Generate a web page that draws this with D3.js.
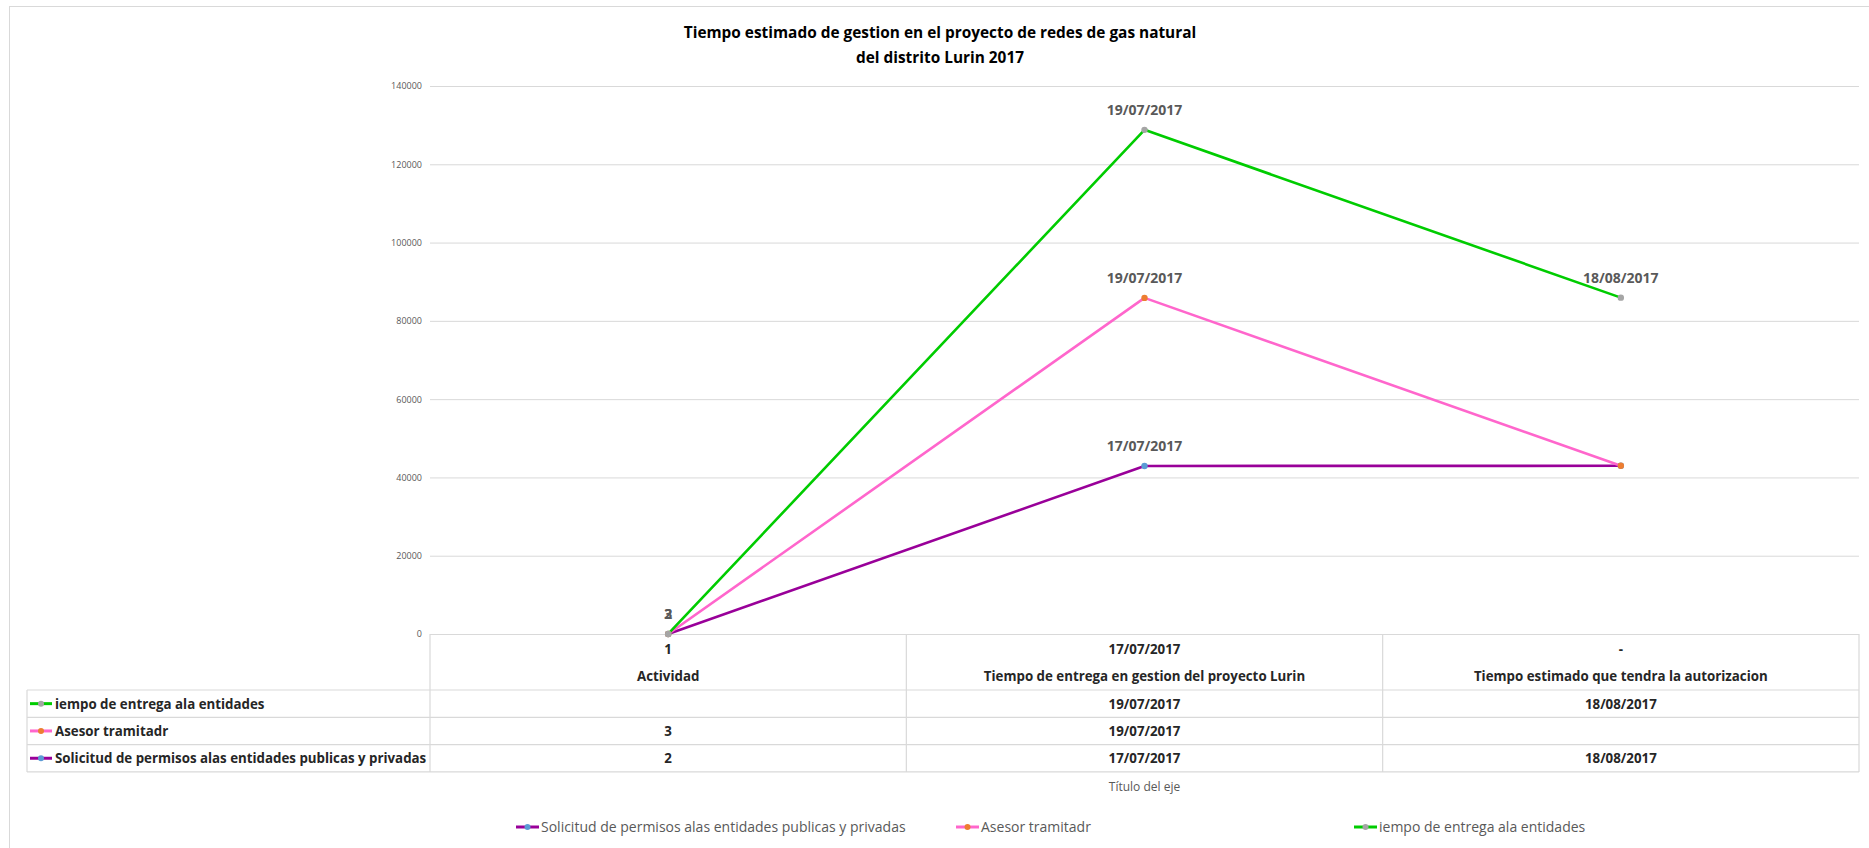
<!DOCTYPE html>
<html>
<head>
<meta charset="utf-8">
<script src="https://cdn.jsdelivr.net/npm/d3@7"></script>
<style>
  html, body { margin: 0; padding: 0; background: #fff; }
  svg { display: block; }
  text { font-family: "Liberation Sans Narrow", "Open Sans", sans-serif; }
</style>
</head>
<body>
<svg id="chart" width="1869" height="848"></svg>
<script>
// Categories and the text shown above each category name in the data table
const categories = [
  "Actividad",
  "Tiempo de entrega en gestion del proyecto Lurin",
  "Tiempo estimado que tendra la autorizacion"
];
const categoryTopRow = ["1", "17/07/2017", "-"];

// Series values (dates are stored as dd/mm/yyyy, plain numbers as numbers; null = empty cell)
const solicitud = [2, "17/07/2017", "18/08/2017"];
const asesor = [3, "19/07/2017", null];
const tiempoEntrega = [null, "19/07/2017", "18/08/2017"];

const seriesNames = [
  "Solicitud de permisos alas entidades publicas y privadas",
  "Asesor tramitadr",
  "iempo de entrega ala entidades"
];

// Points that carry a data label, per series
const solicitudLabelled = [0, 1];
const asesorLabelled = [0, 1];
const tiempoLabelled = [1, 2];

const yTicks = [0, 20000, 40000, 60000, 80000, 100000, 120000, 140000];

// Spreadsheet-style day serial (days since 30/12/1899)
function toSerial(v) {
  if (v == null) return 0;
  if (typeof v === "number") return v;
  const [d, m, y] = v.split("/").map(Number);
  return Math.round((Date.UTC(y, m - 1, d) - Date.UTC(1899, 11, 30)) / 86400000);
}
function toText(v) { return v == null ? "" : String(v); }

const series = [
  { key: "solicitud", name: seriesNames[0], raw: solicitud, labelled: solicitudLabelled, line: "#990099", marker: "#5B9BD5" },
  { key: "asesor", name: seriesNames[1], raw: asesor, labelled: asesorLabelled, line: "#FF66CC", marker: "#ED7D31" },
  { key: "tiempo", name: seriesNames[2], raw: tiempoEntrega, labelled: tiempoLabelled, line: "#00CC00", marker: "#A5A5A5" }
];

const rows = categories.map((c, i) => {
  const r = { cat: c };
  series.forEach(s => r[s.key] = toSerial(s.raw[i]));
  return r;
});
const stacked = d3.stack().keys(series.map(s => s.key))(rows);

const svg = d3.select("#chart");
const tableFont = 13.3;

// chart area frame
svg.append("rect").attr("x", 9.5).attr("y", 6.5).attr("width", 1900).attr("height", 900)
  .attr("fill", "#fff").attr("stroke", "#D9D9D9");

// title
svg.append("text").attr("x", 940).attr("y", 38).attr("text-anchor", "middle")
  .attr("font-size", 15.4).attr("font-weight", "bold").attr("fill", "#000")
  .text("Tiempo estimado  de gestion en el proyecto de redes de gas natural");
svg.append("text").attr("x", 940).attr("y", 63).attr("text-anchor", "middle")
  .attr("font-size", 15.4).attr("font-weight", "bold").attr("fill", "#000")
  .text("del distrito Lurin 2017");

// scales
const x = d3.scaleBand().domain(categories).range([430, 1859]);
const xc = c => x(c) + x.bandwidth() / 2;
const y = d3.scaleLinear().domain([0, 140000]).range([634, 86]);

// gridlines + y labels
const yAxis = d3.axisLeft(y).tickValues(yTicks).tickFormat(d3.format("d"))
  .tickSize(-(1859 - 430)).tickPadding(8);
const gy = svg.append("g").attr("transform", "translate(430,0)").call(yAxis);
gy.select(".domain").remove();
gy.selectAll(".tick line").attr("stroke", "#D9D9D9").attr("stroke-width", 1);
gy.selectAll(".tick text").attr("fill", "#595959").attr("font-size", 9)
  .style("font-family", "'Liberation Sans Narrow', 'Open Sans', sans-serif");

// data table
const tbl = svg.append("g").attr("stroke", "#D9D9D9").attr("stroke-width", 1.2);
const tableTop = 634, headerBottom = 690, rowH = 27.3;
const colEdges = categories.map(c => x(c)).concat([x(categories[categories.length - 1]) + x.bandwidth()]);
colEdges.forEach(cx => tbl.append("line").attr("x1", cx).attr("x2", cx)
  .attr("y1", tableTop).attr("y2", headerBottom + rowH * 3));
tbl.append("line").attr("x1", 27).attr("x2", 27).attr("y1", headerBottom).attr("y2", headerBottom + rowH * 3);
for (let k = 0; k <= 3; k++) {
  tbl.append("line").attr("x1", 27).attr("x2", colEdges[colEdges.length - 1])
    .attr("y1", headerBottom + rowH * k).attr("y2", headerBottom + rowH * k);
}

// category header text
categories.forEach((c, i) => {
  svg.append("text").attr("x", xc(c)).attr("y", 654).attr("text-anchor", "middle")
    .attr("font-size", tableFont).attr("font-weight", "bold").attr("fill", "#262626").text(categoryTopRow[i]);
  svg.append("text").attr("x", xc(c)).attr("y", 681).attr("text-anchor", "middle")
    .attr("font-size", tableFont).attr("font-weight", "bold").attr("fill", "#262626").text(c);
});

// table rows (top to bottom: last series first)
const tableOrder = series.slice().reverse();
tableOrder.forEach((s, k) => {
  const cy = headerBottom + rowH * k + rowH / 2;
  svg.append("line").attr("x1", 30).attr("x2", 52).attr("y1", cy).attr("y2", cy)
    .attr("stroke", s.line).attr("stroke-width", 3);
  svg.append("circle").attr("cx", 41).attr("cy", cy).attr("r", 3).attr("fill", s.marker);
  svg.append("text").attr("x", 55).attr("y", cy + 5).attr("font-size", tableFont).attr("font-weight", "bold")
    .attr("fill", "#262626").text(s.name);
  s.raw.forEach((v, i) => {
    svg.append("text").attr("x", xc(categories[i])).attr("y", cy + 5).attr("text-anchor", "middle")
      .attr("font-size", tableFont).attr("font-weight", "bold").attr("fill", "#262626").text(toText(v));
  });
});

// axis title
svg.append("text").attr("x", xc(categories[1])).attr("y", 791).attr("text-anchor", "middle")
  .attr("font-size", 12).attr("fill", "#595959").text("Título del eje");

// lines, markers, labels
const line = d3.line().x(d => xc(d.data.cat)).y(d => y(d[1]));
stacked.forEach((layer, si) => {
  const s = series[si];
  svg.append("path").datum(layer).attr("d", line).attr("fill", "none")
    .attr("stroke", s.line).attr("stroke-width", 2.6).attr("stroke-linejoin", "round");
});
stacked.forEach((layer, si) => {
  const s = series[si];
  svg.selectAll(null).data(layer).enter().append("circle")
    .attr("cx", d => xc(d.data.cat)).attr("cy", d => y(d[1])).attr("r", 3.2).attr("fill", s.marker);
});
stacked.forEach((layer, si) => {
  const s = series[si];
  s.labelled.forEach(i => {
    const d = layer[i];
    svg.append("text").attr("x", xc(d.data.cat)).attr("y", y(d[1]) - 15).attr("text-anchor", "middle")
      .attr("font-size", 14).attr("font-weight", "bold").attr("fill", "#595959").text(toText(s.raw[i]));
  });
});

// bottom legend
const legendItems = [
  { s: series[0], x: 516 },
  { s: series[1], x: 956 },
  { s: series[2], x: 1354 }
];
legendItems.forEach(li => {
  const cy = 827;
  svg.append("line").attr("x1", li.x).attr("x2", li.x + 23).attr("y1", cy).attr("y2", cy)
    .attr("stroke", li.s.line).attr("stroke-width", 3);
  svg.append("circle").attr("cx", li.x + 11.5).attr("cy", cy).attr("r", 3).attr("fill", li.s.marker);
  svg.append("text").attr("x", li.x + 25).attr("y", cy + 5).attr("font-size", 14)
    .attr("fill", "#595959").text(li.s.name);
});
</script>
</body>
</html>
